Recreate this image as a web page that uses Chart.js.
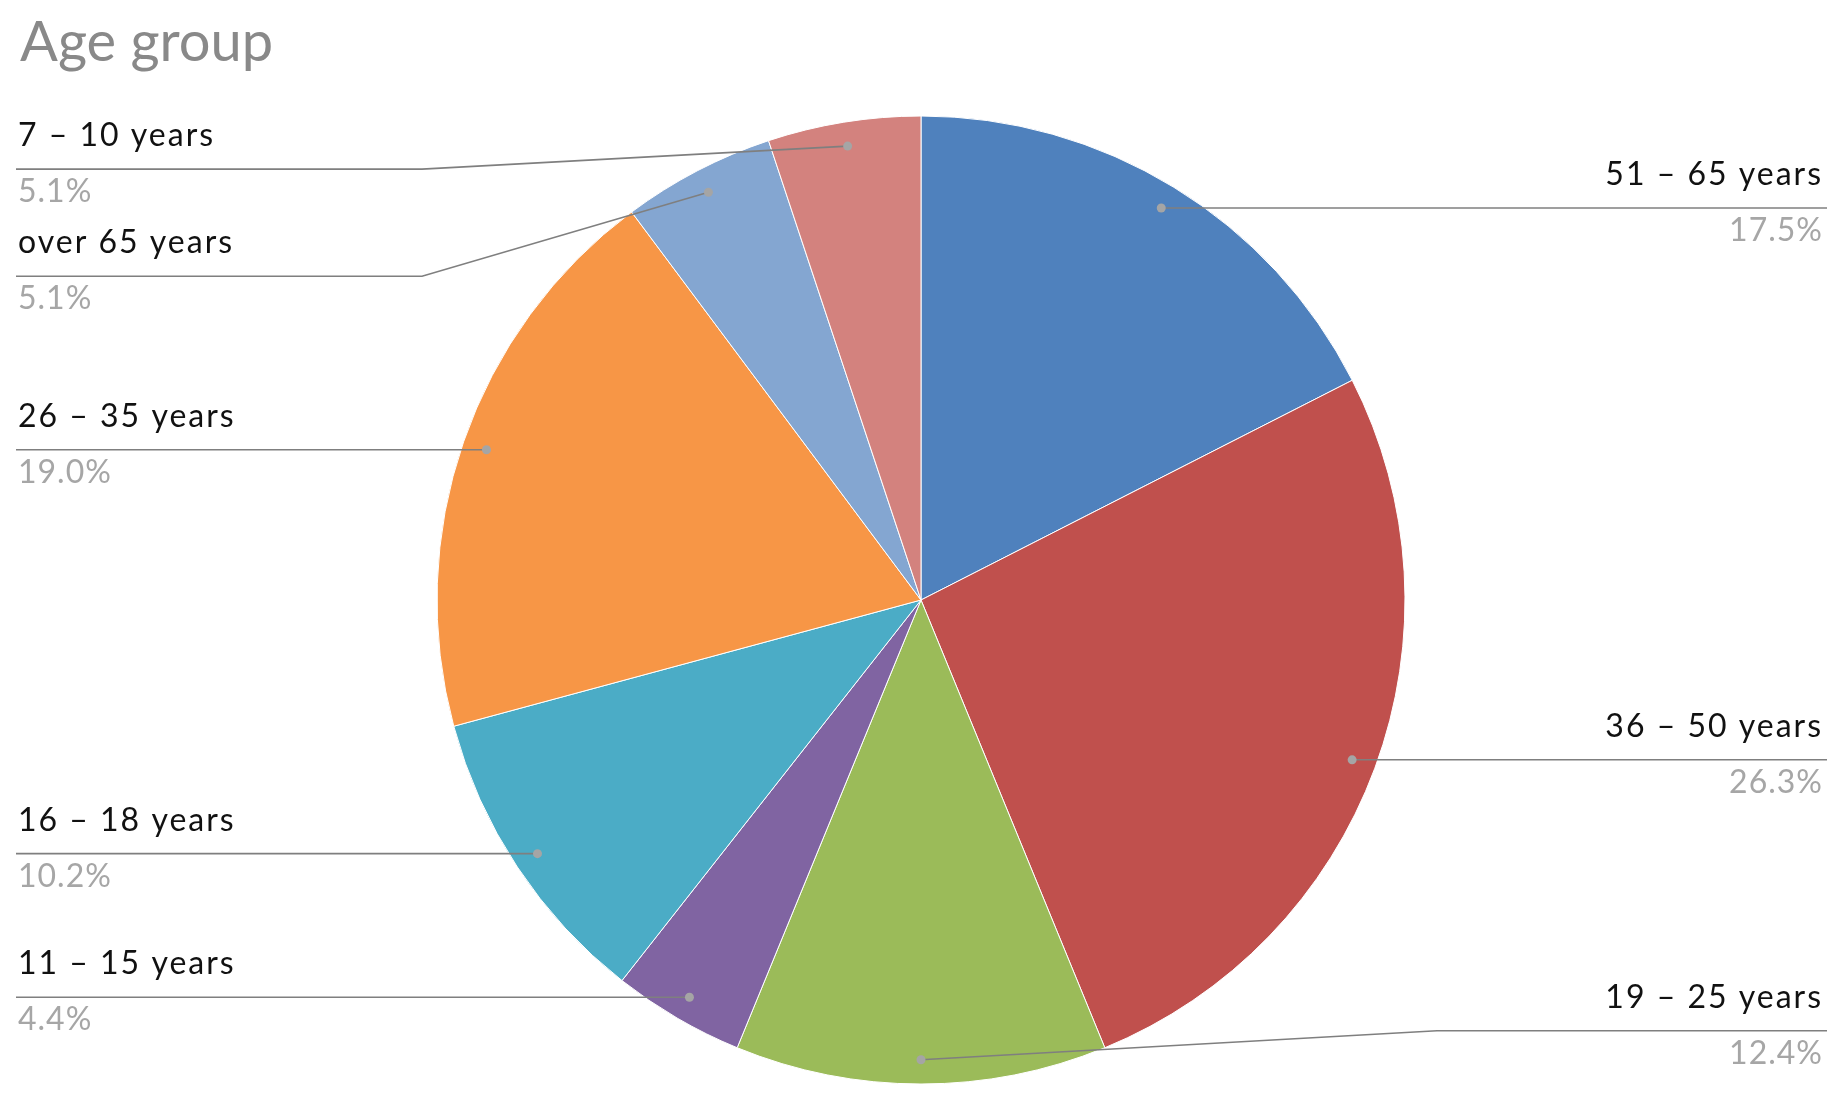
<!DOCTYPE html>
<html>
<head>
<meta charset="utf-8">
<title>Age group</title>
<script src="https://cdn.jsdelivr.net/npm/chart.js@4.4.1/dist/chart.umd.min.js"></script>
<style>
  html, body { margin: 0; padding: 0; background: #ffffff; }
  #wrap { width: 1847px; height: 1097px; }
</style>
</head>
<body>
<div id="wrap"><canvas id="ageChart" width="1847" height="1097"></canvas></div>
<script>
// data, clockwise from 12 o'clock
const ageGroups = ['51 – 65 years', '36 – 50 years', '19 – 25 years', '11 – 15 years',
                   '16 – 18 years', '26 – 35 years', 'over 65 years', '7 – 10 years'];
const sharePct = [17.5, 26.3, 12.4, 4.4, 10.2, 19.0, 5.1, 5.1];
const sliceColors = ['#4f81bd', '#c0504d', '#9bbb59', '#8064a2',
                     '#4bacc6', '#f79646', '#84a6d1', '#d3827e'];

const FONT = 'Lato, "Open Sans", sans-serif';

// leader lines + labels, excel style
const leaderLabels = {
  id: 'leaderLabels',
  afterDatasetsDraw(chart, args, opts) {
    const ctx = chart.ctx;
    const arcs = chart.getDatasetMeta(0).data;
    ctx.save();
    arcs.forEach((arc, i) => {
      const p = arc.getProps(['x', 'y', 'startAngle', 'endAngle', 'outerRadius'], true);
      const mid = (p.startAngle + p.endAngle) / 2;
      const dx = p.x + Math.cos(mid) * p.outerRadius * opts.dotRatio;
      const dy = p.y + Math.sin(mid) * p.outerRadius * opts.dotRatio;
      // bottom slice sits on the axis, excel sends it right
      const right = dx > p.x - 1;
      const lineY = dy + (opts.shift[i] || 0);
      const edgeX = right ? opts.rightEdge : opts.leftEdge;

      ctx.strokeStyle = '#7f7f7f';
      ctx.lineWidth = 1.6;
      ctx.beginPath();
      ctx.moveTo(dx, dy);
      if (opts.shift[i]) ctx.lineTo(right ? opts.rightBend : opts.leftBend, lineY);
      ctx.lineTo(edgeX, lineY);
      ctx.stroke();

      ctx.fillStyle = '#a5a5a5';
      ctx.beginPath();
      ctx.arc(dx, dy, 4.5, 0, Math.PI * 2);
      ctx.fill();

      const tx = right ? opts.rightText : opts.leftText;
      ctx.textAlign = right ? 'right' : 'left';
      ctx.textBaseline = 'alphabetic';
      ctx.font = '32px ' + FONT;
      ctx.letterSpacing = '2px';
      ctx.fillStyle = '#111111';
      ctx.fillText(chart.data.labels[i], tx, lineY - 23);
      ctx.letterSpacing = '1px';
      ctx.fillStyle = '#a6a6a6';
      ctx.fillText(chart.data.datasets[0].data[i].toFixed(1) + '%', tx, lineY + 33);
    });

    ctx.letterSpacing = '0px';
    ctx.textAlign = 'left';
    ctx.font = '56px ' + FONT;
    ctx.fillStyle = '#898989';
    ctx.fillText('Age group', 20, 61);
    ctx.restore();
  }
};

new Chart(document.getElementById('ageChart'), {
  type: 'pie',
  data: {
    labels: ageGroups,
    datasets: [{
      data: sharePct,
      backgroundColor: sliceColors,
      borderColor: '#ffffff',
      borderWidth: 1
    }]
  },
  options: {
    responsive: false,
    devicePixelRatio: 1,
    animation: false,
    radius: 484,
    layout: { padding: { top: 110, bottom: 7, left: 0, right: 5 } },
    plugins: {
      legend: { display: false },
      tooltip: { enabled: false },
      leaderLabels: {
        dotRatio: 0.95,
        shift: [0, 0, -29, 0, 0, 0, 84, 23],
        leftBend: 422, rightBend: 1437,
        leftEdge: 16, rightEdge: 1827,
        leftText: 18, rightText: 1823
      }
    }
  },
  plugins: [leaderLabels]
});
</script>
</body>
</html>
